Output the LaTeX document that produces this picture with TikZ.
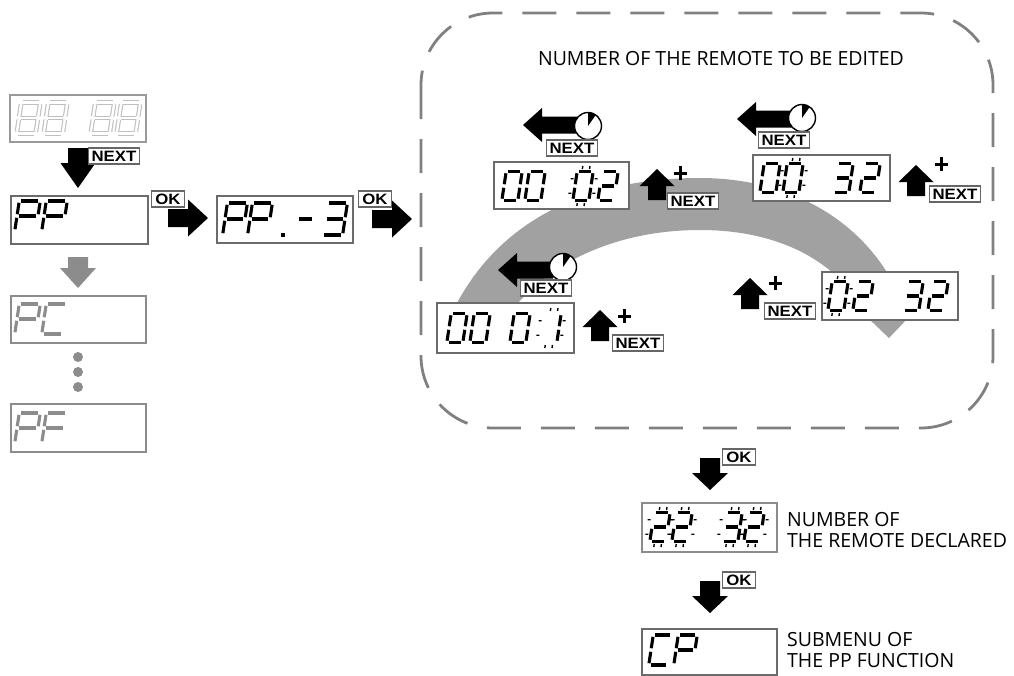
\documentclass[tikz,border=0pt]{standalone}
\usepackage{fontspec}
\setmainfont{Open Sans}
\newfontfamily\tagfont[FakeStretch=1.12]{Liberation Sans}
\newcommand\dg[6]{%
 \begin{scope}[shift={(#1,#2)},xslant=0.15]
  \coordinate (sga1) at (0,-#4/2); \coordinate (sga2) at (#3,-#4/2);
  \coordinate (sgb1) at (#3,-#4/2); \coordinate (sgb2) at (#3,0);
  \coordinate (sgc1) at (#3,0); \coordinate (sgc2) at (#3,#4/2);
  \coordinate (sgd1) at (0,#4/2); \coordinate (sgd2) at (#3,#4/2);
  \coordinate (sge1) at (0,0); \coordinate (sge2) at (0,#4/2);
  \coordinate (sgf1) at (0,-#4/2); \coordinate (sgf2) at (0,0);
  \coordinate (sgg1) at (0,0); \coordinate (sgg2) at (#3,0);
  \foreach \s in {#5} {\draw[seg,#6] (sg\s1) -- (sg\s2);}
 \end{scope}}
\newcommand\blk[4]{%
 \begin{scope}[shift={(#1,#2)},xslant=0.15]
  \draw[tick] (0.3*#3,-#4/2-2.5) -- ++(0,-3) (0.75*#3,-#4/2-2.5) -- ++(0,-3)
              (0.3*#3,#4/2+2.5) -- ++(0,3) (0.75*#3,#4/2+2.5) -- ++(0,3)
              (-2.5,-#4/4) -- ++(-3,0) (-2.5,#4/4) -- ++(-3,0)
              (#3+2.5,-#4/4) -- ++(3,0) (#3+2.5,#4/4) -- ++(3,0);
 \end{scope}}
\newcommand\barrow[8][black]{%
 \begin{scope}[shift={(#2,#3)},rotate=#4]
  \fill[#1] (0,0) -- (-#6,#7) -- (-#6,#8) -- (-#5,#8) -- (-#5,-#8) -- (-#6,-#8) -- (-#6,-#7) -- cycle;
 \end{scope}}
\newcommand\clk[2]{%
 \draw[fill=white,line width=1.4] (#1,#2) circle[radius=13.5];
 \fill (#1,#2) -- ++(0,-13.5) arc[start angle=-90,end angle=-55,radius=13.5] -- cycle;}
\newcommand\plus[2]{\draw[line width=3] (#1-6.5,#2) -- (#1+6.5,#2) (#1,#2-7) -- (#1,#2+7);}
\begin{document}
\begin{tikzpicture}[x=1pt,y=-1pt,
  seg/.style={line width=3.1,shorten <=1.8,shorten >=1.8,line cap=butt},
  ghost/.style={draw=black!25,line width=1.1,double=white,double distance=2.4},
  greyseg/.style={draw=black!45},
  tick/.style={line width=1.4},
  lcdbox/.style={draw=black!58,line width=1.5,fill=white},
  greybox/.style={draw=black!45,line width=1.5,fill=white},
  tag/.style={draw=black!60,line width=1.1,fill=white,inner sep=0,minimum height=16,
     font=\tagfont\bfseries\fontsize{15}{15}\selectfont},
  nexttag/.style={tag,minimum width=51},
  oktag/.style={tag,minimum width=33},
  txt/.style={font=\fontsize{19.5}{21.5}\selectfont,align=left,inner sep=0},
  dashbox/.style={draw=black!50,line width=2.8,dash pattern=on 34 off 20,rounded corners=72},
  bandc/.style={fill=black!37}]
\useasboundingbox (0,0) rectangle (1014,675);

% ---------- left column ----------
\draw[lcdbox,draw=black!40] (10,95) rectangle (146,142);
\dg{19}{118}{19}{31}{a,b,c,d,e,f,g}{ghost}
\dg{46}{118}{19}{31}{a,b,c,d,e,f,g}{ghost}
\dg{93}{118}{19}{31}{a,b,c,d,e,f,g}{ghost}
\dg{119}{118}{19}{31}{a,b,c,d,e,f,g}{ghost}

\barrow{78}{188}{-90}{40}{25}{17.5}{10}
\node[nexttag] (nx0) at (114,156) {NEXT};

\node[lcdbox,minimum width=137,minimum height=48,anchor=north west,inner sep=0] (pp) at (10,195) {};
\dg{17}{216}{21}{30}{a,b,f,g,e}{}
\dg{44}{216}{21}{30}{a,b,f,g,e}{}

\barrow[black!45]{78}{288}{-90}{31}{20}{18}{10}

\draw[greybox] (11,296) rectangle (146,343);
\dg{17}{319}{21}{30}{a,b,f,g,e}{greyseg}
\dg{44}{319}{21}{30}{a,d,e,f}{greyseg}

\foreach \yy in {357,372,387} \fill[black!45] (78,\yy) circle[radius=5];

\draw[greybox] (11,404) rectangle (146,452);
\dg{17}{428}{21}{30}{a,b,f,g,e}{greyseg}
\dg{44}{428}{21}{30}{a,f,g,e}{greyseg}

% ---------- OK arrows ----------
\barrow{208}{218}{0}{40}{20}{18.5}{9}
\node[oktag] (ok1) at (168,199) {OK};

\node[lcdbox,minimum width=136,minimum height=47,anchor=north west,inner sep=0] (pp3) at (216,195) {};
\dg{225}{219}{20}{32}{a,b,f,g,e}{}
\dg{250}{219}{20}{32}{a,b,f,g,e}{}
\fill (281,233) rectangle ++(3.5,3.5);
\dg{297}{219}{17}{32}{g}{}
\dg{325}{219}{20}{32}{a,b,c,d,g}{}

\barrow{412}{219}{0}{40}{20}{18.5}{9}
\node[oktag] (ok2) at (375,199) {OK};

% ---------- editing box ----------
\fill[bandc] (457,303) .. controls (510,205) and (610,178) .. (700,178)
  .. controls (800,178) and (880,230) .. (908,318)
  -- (889,338) -- (868,318)
  .. controls (840,262) and (780,230) .. (700,230)
  .. controls (620,230) and (555,260) .. (518,303) -- cycle;

\draw[dashbox] (421,13) rectangle (993,428);
\node[txt] (title) at (721,59) {NUMBER OF THE REMOTE TO BE EDITED};

% 00 02
\barrow{523}{125}{180}{55}{19}{17}{8.5}
\clk{588}{126}
\node[nexttag] (nx1) at (572,148) {NEXT};
\draw[lcdbox] (494,162) rectangle (629,209);
\dg{504}{186}{16}{29}{a,b,c,d,e,f}{}
\dg{527}{186}{16}{29}{a,b,c,d,e,f}{}
\dg{575}{186}{16}{29}{a,b,c,d,e,f}{}
\blk{575}{186}{16}{29}
\dg{600}{186}{16}{29}{a,b,g,e,d}{}
\barrow{657}{169}{90}{31}{17}{17.5}{9}
\plus{680}{173}
\node[nexttag] (nx2) at (693,201) {NEXT};

% 00 32
\barrow{737}{119}{180}{55}{19}{17}{8.5}
\clk{802}{118}
\node[nexttag] (nx3) at (784,140) {NEXT};
\draw[lcdbox] (753,155) rectangle (890,201);
\dg{762}{178}{16}{29}{a,b,c,d,e,f}{}
\dg{785}{178}{16}{29}{a,b,c,d,e,f}{}
\blk{785}{178}{16}{29}
\dg{835}{178}{16}{29}{a,b,c,d,g}{}
\dg{862}{178}{16}{29}{a,b,g,e,d}{}
\barrow{916}{165}{90}{31}{17}{17.5}{9}
\plus{941}{164}
\node[nexttag] (nx4) at (955,194) {NEXT};

% 00 01
\barrow{498}{270}{180}{55}{19}{17}{8.5}
\clk{563}{267}
\node[nexttag] (nx5) at (546,288) {NEXT};
\draw[lcdbox] (437,303) rectangle (574,353);
\dg{449}{328}{16}{29}{a,b,c,d,e,f}{}
\dg{472}{328}{16}{29}{a,b,c,d,e,f}{}
\dg{512}{328}{16}{29}{a,b,c,d,e,f}{}
\dg{543}{328}{16}{29}{b,c}{}
\blk{543}{328}{16}{29}
\barrow{600}{310}{90}{31}{17}{17.5}{9}
\plus{624}{316}
\node[nexttag] (nx6) at (638,343) {NEXT};

% 02 32
\barrow{750}{278}{90}{31}{17}{17.5}{9}
\plus{775}{283}
\node[nexttag] (nx7) at (790,311) {NEXT};
\draw[lcdbox] (822,272) rectangle (958,320);
\dg{830}{296}{16}{29}{a,b,c,d,e,f}{}
\blk{830}{296}{16}{29}
\dg{855}{296}{16}{29}{a,b,g,e,d}{}
\dg{905}{296}{16}{29}{a,b,c,d,g}{}
\dg{930}{296}{16}{29}{a,b,g,e,d}{}

% ---------- bottom ----------
\barrow{710}{490}{-90}{32}{17}{18}{10}
\node[oktag] (ok3) at (739,457) {OK};

\draw[lcdbox,draw=black!45] (642,503) rectangle (777,552);
\dg{652}{527}{16}{29}{a,b,g,e,d}{}
\blk{652}{527}{16}{29}
\dg{674}{527}{16}{29}{a,b,g,e,d}{}
\blk{674}{527}{16}{29}
\dg{724}{527}{16}{29}{a,b,c,d,g}{}
\blk{724}{527}{16}{29}
\dg{746}{527}{16}{29}{a,b,g,e,d}{}
\blk{746}{527}{16}{29}
\node[txt,anchor=west] (decl) at (787,530) {NUMBER OF\\THE REMOTE DECLARED};

\barrow{710}{613}{-90}{32}{17}{18}{10}
\node[oktag] (ok4) at (739,580) {OK};

\draw[lcdbox] (642,629) rectangle (777,675);
\dg{651}{650}{19}{30}{a,d,e,f}{}
\dg{676}{650}{19}{30}{a,b,f,g,e}{}
\node[txt,anchor=west] (subm) at (787,650) {SUBMENU OF\\THE PP FUNCTION};
\end{tikzpicture}
\end{document}
